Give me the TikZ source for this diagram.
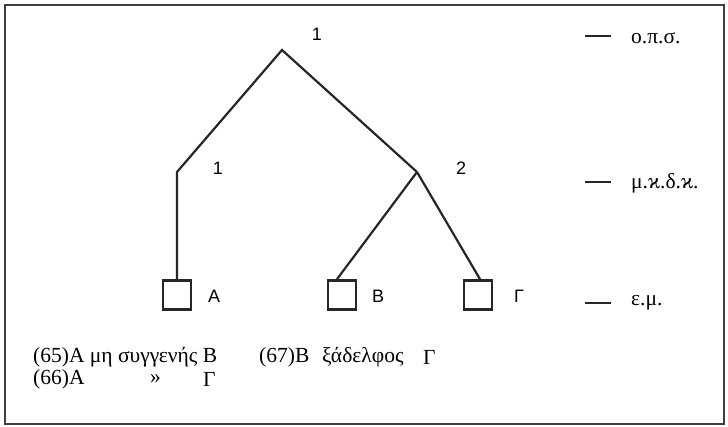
\documentclass[tikz,border=0pt]{standalone}
\usepackage{fontspec}
\setmainfont{Liberation Serif}
\newfontfamily\lsans{Liberation Sans}
\begin{document}
\begin{tikzpicture}[x=1pt,y=-1pt,
  edge/.style={line width=2.2pt, draw=black!85},
  leaf/.style={draw=black!85, line width=2.6pt, minimum width=28pt, minimum height=29pt, inner sep=0pt},
  lab/.style={font=\lsans\fontsize{18}{20}\selectfont, inner sep=0pt},
  gr/.style={font=\fontsize{21.5}{24}\selectfont, inner sep=0pt, anchor=west},
  tick/.style={line width=2.6pt, draw=black!85}]
\useasboundingbox (0,0) rectangle (728,427);
\draw[line width=1.5pt, draw=black!75] (5,5) rectangle (724,424);
% tree
\coordinate (top) at (282,50);
\coordinate (lk) at (177,172);
\coordinate (rk) at (417,172);
\node[leaf] (A) at (177,295) {};
\node[leaf] (B) at (342,295) {};
\node[leaf] (G) at (478,295) {};
\draw[edge] (A.north) -- (lk) -- (top) -- (rk);
\draw[edge] (rk) -- ([xshift=-5pt]B.north);
\draw[edge] (rk) -- ([xshift=2pt]G.north);
% labels
\node[lab] (n1) at (317,34) {1};
\node[lab] (n2) at (218,168) {1};
\node[lab] (n3) at (461,168) {2};
\node[lab] (la) at (214,296) {A};
\node[lab] (lb) at (378,296) {B};
\node[lab] (lg) at (519,296) {Γ};
% levels
\coordinate (t1a) at (585,36); \coordinate (t1b) at (611,36);
\coordinate (t2a) at (585,182); \coordinate (t2b) at (611,182);
\coordinate (t3a) at (585,303); \coordinate (t3b) at (611,303);
\draw[tick] (t1a) -- (t1b);
\draw[tick] (t2a) -- (t2b);
\draw[tick] (t3a) -- (t3b);
\node[gr] (o1) at (631,38) {ο.π.σ.};
\node[gr] (o2) at (631,183) {μ.ϰ.δ.ϰ.};
\node[gr] (o3) at (631,303) {ε.μ.};
% examples
\node[gr] (e65) at (33,357) {(65)Α μη συγγενής Β};
\node[gr] (e67) at (259,357) {(67)Β};
\node[gr] (xad) at (322,357) {ξάδελφος};
\node[gr] (g67) at (423,357) {Γ};
\node[gr] (e66) at (33,379) {(66)Α};
\node[gr] (q) at (150,379) {»};
\node[gr] (g66) at (203,379) {Γ};
\end{tikzpicture}
\end{document}
